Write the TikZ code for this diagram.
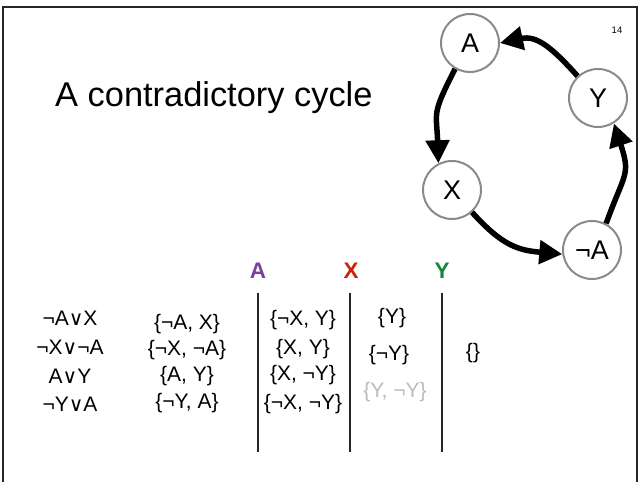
\documentclass[tikz,border=0pt]{standalone}
\usepackage{fontspec}
\setmainfont{Liberation Sans}
\newfontfamily\djv{DejaVu Sans}
\usetikzlibrary{arrows.meta}
\newcommand{\myor}{{\djv\fontsize{20bp}{20bp}\selectfont ∨}}
\definecolor{hpurple}{HTML}{7B3FA0}
\definecolor{hred}{HTML}{CC2200}
\definecolor{hgreen}{HTML}{11883A}
\definecolor{lgray}{HTML}{BBBBBB}
\definecolor{cgray}{HTML}{8A8A8A}
\begin{document}
\begin{tikzpicture}[x=1bp,y=1bp,
  vnode/.style={circle,draw=cgray,line width=2bp,fill=white,minimum size=58bp,inner sep=0pt,font=\fontsize{27bp}{27bp}\selectfont},
  bigarrow/.style={line width=5.5bp,-{Triangle[length=23bp,width=23bp]}},
  cell/.style={inner sep=0pt,font=\fontsize{21bp}{21bp}\selectfont},
  head/.style={inner sep=0pt,font=\fontsize{22.5bp}{22.5bp}\selectfont\bfseries},
  sep/.style={line width=1.3bp,black!85},
  frameline/.style={line width=1.3bp,black!85}]
\useasboundingbox (0,0) rectangle (639,482);
% frame
\coordinate (f1) at (3,0);
\coordinate (f2) at (3,475);
\coordinate (f3) at (637,475);
\coordinate (f4) at (637,0);
\draw[frameline] (f1) -- (f2) -- (f3) -- (f4);
% title and page number
\node[anchor=base west,inner sep=0pt,font=\fontsize{34.4bp}{34.4bp}\selectfont] (title) at (55,375) {A contradictory cycle};
\node[inner sep=0pt,font=\fontsize{9.5bp}{9.5bp}\selectfont] (num) at (617,452) {14};
% cycle
\node[vnode] (A) at (470,439) {A};
\node[vnode] (Y) at (598,384) {Y};
\node[vnode] (X) at (452,292) {X};
\node[vnode] (nA) at (592,232) {¬A};
\draw[bigarrow] (A.240) to[out=243,in=92,looseness=1.4] (X.117);
\draw[bigarrow] (X.312) to[out=-48,in=175,looseness=1.15] (nA.188);
\draw[bigarrow] (nA.62) to[out=70,in=-72,looseness=1.4] (Y.302);
\draw[bigarrow] (Y.133) to[out=132,in=12,looseness=1.15] (A.0);
% headers
\node[head,text=hpurple] (hA) at (258,211) {A};
\node[head,text=hred] (hX) at (351,211) {X};
\node[head,text=hgreen] (hY) at (442,211) {Y};
% separators
\coordinate (s1t) at (258,189); \coordinate (s1b) at (258,30);
\coordinate (s2t) at (350,189); \coordinate (s2b) at (350,30);
\coordinate (s3t) at (442,189); \coordinate (s3b) at (442,30);
\draw[sep] (s1t) -- (s1b);
\draw[sep] (s2t) -- (s2b);
\draw[sep] (s3t) -- (s3b);
% column 1
\node[cell] (c11) at (70,164) {¬A\myor X};
\node[cell] (c12) at (70,135) {¬X\myor¬A};
\node[cell] (c13) at (70,106) {A\myor Y};
\node[cell] (c14) at (70,78) {¬Y\myor A};
% column 2
\node[cell] (c21) at (187,158) {\{¬A, X\}};
\node[cell] (c22) at (187,132) {\{¬X, ¬A\}};
\node[cell] (c23) at (187,106) {\{A, Y\}};
\node[cell] (c24) at (187,79) {\{¬Y, A\}};
% column 3
\node[cell] (c31) at (303,162) {\{¬X, Y\}};
\node[cell] (c32) at (303,133) {\{X, Y\}};
\node[cell] (c33) at (303,107) {\{X, ¬Y\}};
\node[cell] (c34) at (303,78) {\{¬X, ¬Y\}};
% column 4
\node[cell] (c41) at (392,164) {\{Y\}};
\node[cell] (c42) at (389,127) {\{¬Y\}};
\node[cell,text=lgray] (c43) at (395,90) {\{Y, ¬Y\}};
% column 5
\node[cell] (c51) at (473,129) {\{\}};
\end{tikzpicture}
\end{document}
